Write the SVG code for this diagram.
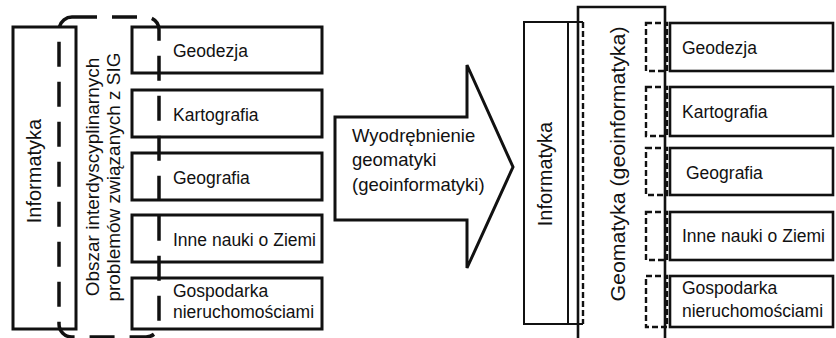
<svg xmlns="http://www.w3.org/2000/svg" width="836" height="338" viewBox="0 0 836 338">
<style>
text{font-family:"Liberation Sans",Arial,sans-serif;fill:#111;}
.lbl{font-size:17.5px;}
.box{fill:#fff;stroke:#111;stroke-width:3;}
.rbox{fill:#fff;stroke:#111;stroke-width:2.6;}
.thin{fill:none;stroke:#111;stroke-width:2;}
.dash{fill:none;stroke:#111;stroke-width:3.5;stroke-dasharray:25 15;}
.sdash{fill:none;stroke:#111;stroke-width:2.4;stroke-dasharray:6 3;}
</style>
<rect width="836" height="338" fill="#fff"/>

<!-- LEFT -->
<g id="informatyka-left">
<rect class="box" x="13" y="27" width="63" height="302"/>
<text class="lbl" style="font-size:20px" text-anchor="middle" transform="translate(41,171) rotate(-90)">Informatyka</text>
</g>
<g id="geodezja-left"><rect class="box" x="132" y="27" width="190" height="46"/><text class="lbl" x="173" y="57">Geodezja</text></g>
<g id="kartografia-left"><rect class="box" x="132" y="90" width="190" height="47"/><text class="lbl" x="173" y="121">Kartografia</text></g>
<g id="geografia-left"><rect class="box" x="132" y="153" width="190" height="47"/><text class="lbl" x="173" y="184">Geografia</text></g>
<g id="inne-left"><rect class="box" x="132" y="215" width="190" height="47"/><text class="lbl" x="173" y="246">Inne nauki o Ziemi</text></g>
<g id="gospodarka-left"><rect class="box" x="132" y="278" width="190" height="51"/><text class="lbl" x="173" y="297">Gospodarka</text><text class="lbl" x="173" y="318">nieruchomościami</text></g>
<g id="obszar">
<rect class="dash" x="59" y="17" width="100" height="320" rx="13" ry="13"/>
<text style="font-size:19px" text-anchor="middle" transform="translate(99,177) rotate(-90)">Obszar interdyscyplinarnych</text>
<text style="font-size:19px" text-anchor="middle" transform="translate(120,177) rotate(-90)">problemów związanych z SIG</text>
</g>

<!-- ARROW -->
<g id="arrow">
<polygon points="335,117 467,117 467,65 513,167 467,268 467,220 335,220" fill="#fff" stroke="#111" stroke-width="3" stroke-linejoin="miter"/>
<text style="font-size:18.5px" x="352" y="142">Wyodrębnienie</text>
<text style="font-size:18.5px" x="352" y="166">geomatyki</text>
<text style="font-size:18.5px" x="352" y="191">(geoinformatyki)</text>
</g>

<!-- RIGHT -->
<g id="informatyka-right">
<rect class="thin" x="524" y="22" width="44" height="302" fill="#fff"/>
<path class="thin" d="M568,22 H583 M568,324 H583"/>
<line class="sdash" x1="583" y1="22" x2="583" y2="324"/>
<text style="font-size:20px" text-anchor="middle" transform="translate(552,174) rotate(-90)">Informatyka</text>
</g>
<g id="geomatyka">
<path d="M578,338 V7 H665 V338" fill="none" stroke="#111" stroke-width="2.6"/>
<text style="font-size:20px" text-anchor="middle" textLength="275" lengthAdjust="spacingAndGlyphs" transform="translate(625,164) rotate(-90)">Geomatyka (geoinformatyka)</text>
</g>
<g id="geodezja-right"><rect class="sdash" x="646" y="23" width="21" height="48"/><rect class="rbox" x="670" y="23" width="163" height="48"/><text class="lbl" x="682" y="54">Geodezja</text></g>
<g id="kartografia-right"><rect class="sdash" x="646" y="87" width="21" height="49"/><rect class="rbox" x="670" y="87" width="163" height="49"/><text class="lbl" x="682" y="118">Kartografia</text></g>
<g id="geografia-right"><rect class="sdash" x="646" y="148" width="21" height="47"/><rect class="rbox" x="670" y="148" width="163" height="47"/><text class="lbl" x="686" y="179">Geografia</text></g>
<g id="inne-right"><rect class="sdash" x="646" y="212" width="21" height="48"/><rect class="rbox" x="670" y="212" width="163" height="48"/><text class="lbl" x="682" y="242">Inne nauki o Ziemi</text></g>
<g id="gospodarka-right"><rect class="sdash" x="646" y="276" width="21" height="51"/><rect class="rbox" x="670" y="276" width="163" height="51"/><text class="lbl" x="682" y="294">Gospodarka</text><text class="lbl" x="682" y="317">nieruchomościami</text></g>
<g id="connectors"></g>
</svg>
